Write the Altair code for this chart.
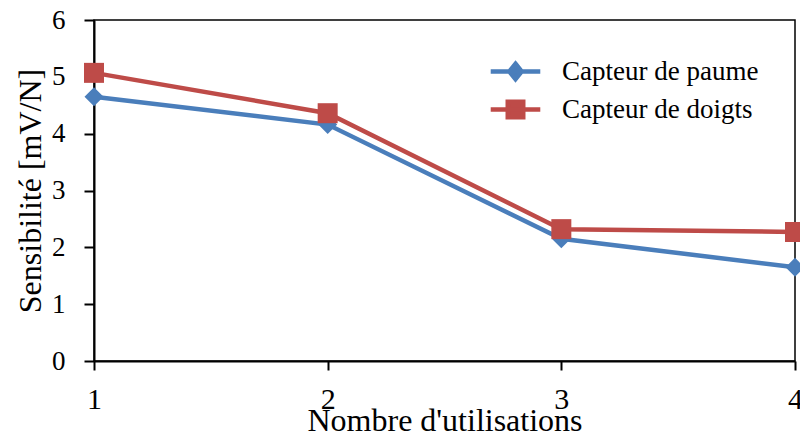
import altair as alt
import pandas as pd

usages = [1, 2, 3, 4]
series_names = ["Capteur de paume", "Capteur de doigts"]
paume = [4.65, 4.16, 2.15, 1.65]
doigts = [5.07, 4.36, 2.32, 2.27]
colors = ["#4A7EBB", "#BE4B48"]
x_ticks = [1, 2, 3, 4]
y_ticks = [0, 1, 2, 3, 4, 5, 6]

rows = []
for s, vals in zip(series_names, [paume, doigts]):
    for u, v in zip(usages, vals):
        rows.append({"usage": u, "sens": v, "series": s})
df = pd.DataFrame(rows)

FONT = "Liberation Serif"

x = alt.X("usage:Q", title="Nombre d'utilisations",
          scale=alt.Scale(domain=[1, 4], nice=False, zero=False),
          axis=alt.Axis(values=x_ticks, format="d", grid=False, tickSize=9, tickWidth=2,
                        domainWidth=2, domainColor="black", tickColor="black",
                        labelFont=FONT, titleFont=FONT,
                        labelFontSize=30, labelPadding=14, labelColor="black",
                        titleFontSize=32, titleFontWeight="normal", titleColor="black",
                        titleBaseline="alphabetic", titleY=69, labelFlush=False))
y = alt.Y("sens:Q", title="Sensibilité [mV/N]",
          scale=alt.Scale(domain=[0, 6], nice=False),
          axis=alt.Axis(values=y_ticks, grid=False, tickSize=10, tickWidth=2,
                        domainWidth=2, domainColor="black", tickColor="black",
                        labelFont=FONT, titleFont=FONT,
                        labelFontSize=27, labelPadding=19, labelColor="black",
                        titleFontSize=32, titleFontWeight="normal", titleColor="black",
                        titleBaseline="alphabetic", titleX=-54))

color_scale = alt.Scale(domain=series_names, range=colors)

lines = alt.Chart(df).mark_line(strokeWidth=4.5).encode(
    x=x, y=y,
    color=alt.Color("series:N", scale=color_scale, legend=None),
    detail="series:N",
)

pt_paths = [
    "M0,-0.95L0.95,0L0,0.95L-0.95,0Z",
    "M-1,-1H1V1H-1Z",
]
points = alt.Chart(df).mark_point(filled=True, size=400, opacity=1, strokeWidth=0).encode(
    x=x, y=y,
    color=alt.Color("series:N", scale=color_scale, legend=None),
    shape=alt.Shape("series:N", scale=alt.Scale(domain=series_names, range=pt_paths), legend=None),
)

leg_paths = [
    "M-3.2,0H3.2M0,-1L0.8,0L0,1L-0.8,0Z",
    "M-3.2,0H3.2M-1,-1H1V1H-1Z",
]
leg = alt.Legend(title=None, orient="none", legendX=408, legendY=38,
                 symbolSize=240, symbolStrokeWidth=4.5,
                 labelFontSize=27, labelFont=FONT, labelColor="black",
                 labelOffset=33, rowPadding=3, padding=0, labelLimit=400)
legend_layer = alt.Chart(df).transform_filter("false").mark_point(
    filled=True, size=240, opacity=1, strokeWidth=4.5
).encode(
    x=x, y=y,
    fill=alt.Fill("series:N", scale=color_scale, legend=leg),
    stroke=alt.Stroke("series:N", scale=color_scale, legend=leg),
    shape=alt.Shape("series:N", scale=alt.Scale(domain=series_names, range=leg_paths),
                    legend=leg),
)

chart = alt.layer(lines, points, legend_layer).resolve_scale(
    shape="independent", fill="independent", stroke="independent"
).properties(
    width=701, height=341,
    autosize=alt.AutoSizeParams(type="none"),
    padding={"left": 94, "top": 20, "right": 5, "bottom": 73},
    background="white",
).configure_view(
    stroke="black", strokeWidth=1.5
)

chart.save("out.html", embed_options={"renderer": "svg", "actions": False})
